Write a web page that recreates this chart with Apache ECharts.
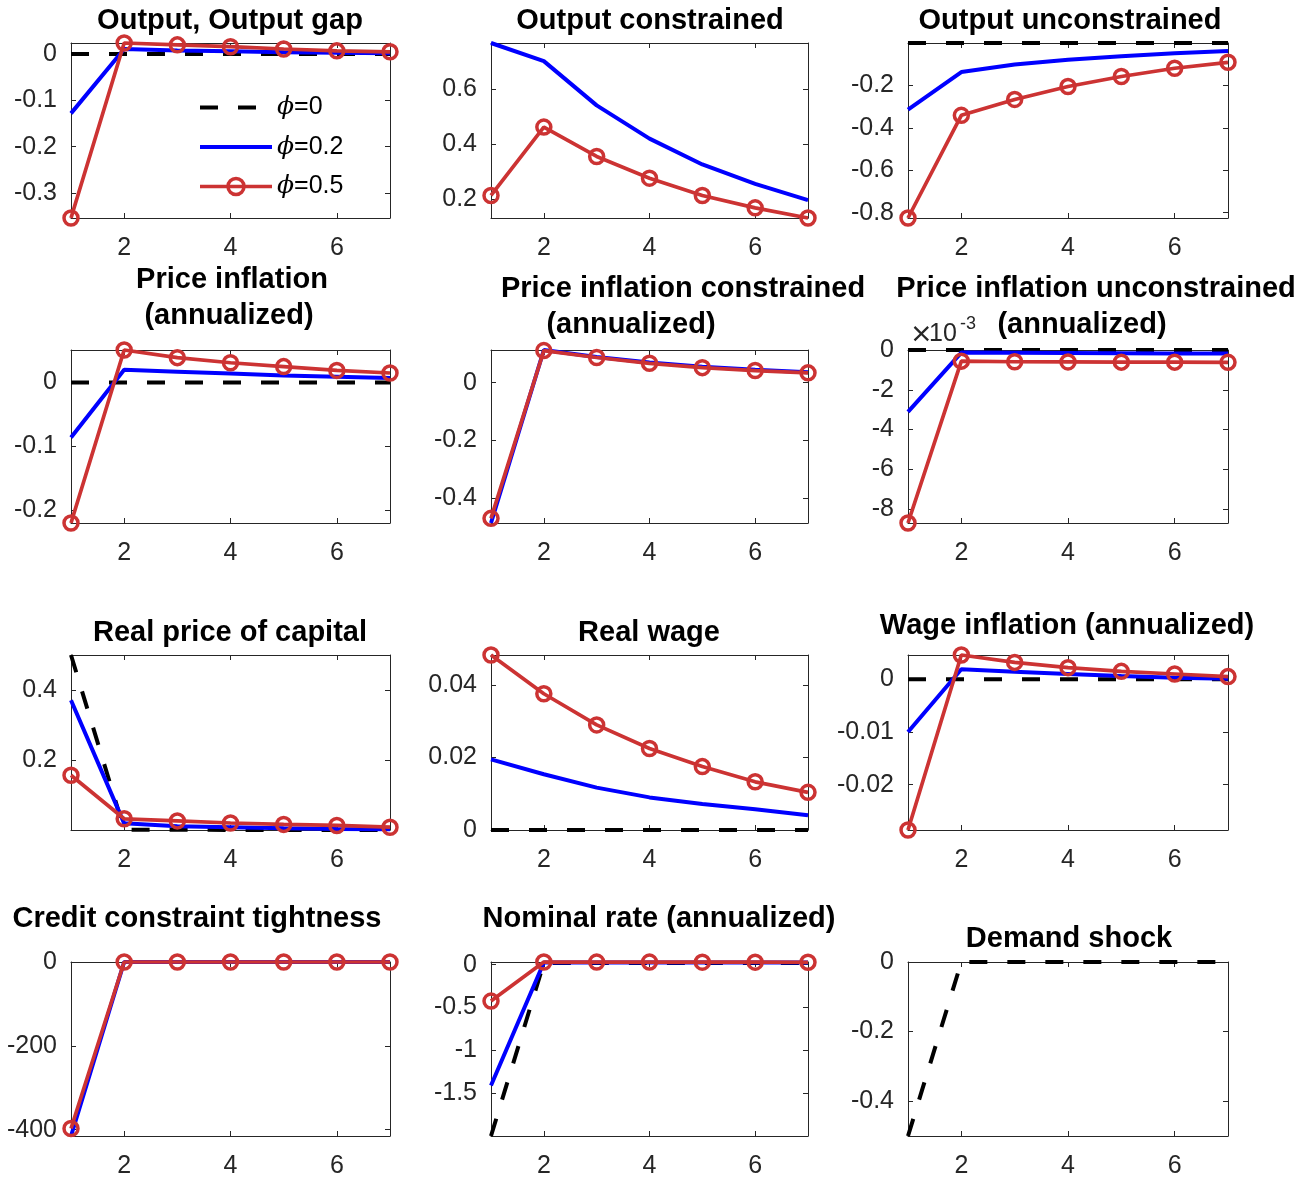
<!DOCTYPE html>
<html>
<head>
<meta charset="utf-8">
<script src="https://cdn.jsdelivr.net/npm/echarts@6/dist/echarts.min.js"></script>
<style>
  html, body { margin: 0; padding: 0; background: #fff; }
  #chart { width: 1314px; height: 1179px; }
</style>
</head>
<body>
<div id="chart"></div>
<script>
// Impulse responses over seven periods for three values of phi
const periods = [1, 2, 3, 4, 5, 6, 7];
const xTicks = [2, 4, 6];
const seriesNames = ['\u03D5=0', '\u03D5=0.2', '\u03D5=0.5'];

// Output, output gap
const outputGapPhi0  = [0, 0, 0, 0, 0, 0, 0];
const outputGapPhi02 = [-0.128, 0.011, 0.008, 0.006, 0.004, 0.003, 0.002];
const outputGapPhi05 = [-0.354, 0.024, 0.020, 0.016, 0.011, 0.007, 0.005];
const outputGapTicks = [-0.3, -0.2, -0.1, 0];

// Output of constrained agents
const outputConPhi02 = [0.768, 0.702, 0.541, 0.420, 0.326, 0.255, 0.196];
const outputConPhi05 = [0.213, 0.462, 0.355, 0.276, 0.213, 0.168, 0.131];
const outputConTicks = [0.2, 0.4, 0.6];

// Output of unconstrained agents
const outputUncPhi0  = [0, 0, 0, 0, 0, 0, 0];
const outputUncPhi02 = [-0.314, -0.137, -0.101, -0.079, -0.062, -0.048, -0.038];
const outputUncPhi05 = [-0.825, -0.341, -0.266, -0.205, -0.158, -0.119, -0.091];
const outputUncTicks = [-0.8, -0.6, -0.4, -0.2];

// Price inflation (annualized)
const inflPhi0  = [0, 0, 0, 0, 0, 0, 0];
const inflPhi02 = [-0.086, 0.020, 0.017, 0.014, 0.011, 0.009, 0.007];
const inflPhi05 = [-0.220, 0.051, 0.039, 0.031, 0.025, 0.019, 0.015];
const inflTicks = [-0.2, -0.1, 0];

// Price inflation of constrained agents (annualized)
const inflConPhi02 = [-0.485, 0.113, 0.089, 0.070, 0.055, 0.045, 0.036];
const inflConPhi05 = [-0.469, 0.111, 0.087, 0.067, 0.052, 0.042, 0.034];
const inflConTicks = [-0.4, -0.2, 0];

// Price inflation of unconstrained agents (annualized)
const inflUncPhi0  = [0, 0, 0, 0, 0, 0, 0];
const inflUncPhi02 = [-0.00311, -0.00013, -0.00014, -0.00015, -0.00016, -0.00017, -0.00017];
const inflUncPhi05 = [-0.00870, -0.00056, -0.00059, -0.00060, -0.00061, -0.00061, -0.00062];
const inflUncTicks = [-0.008, -0.006, -0.004, -0.002, 0];

// Real price of capital
const capPricePhi0  = [0.500, 0.002, 0.002, 0.001, 0.001, 0.001, 0.001];
const capPricePhi02 = [0.371, 0.020, 0.012, 0.009, 0.006, 0.004, 0.003];
const capPricePhi05 = [0.157, 0.033, 0.027, 0.021, 0.017, 0.014, 0.009];
const capPriceTicks = [0.2, 0.4];

// Real wage
const wagePhi0  = [0, 0, 0, 0, 0, 0, 0];
const wagePhi02 = [0.0195, 0.0154, 0.0117, 0.0090, 0.0072, 0.0057, 0.0041];
const wagePhi05 = [0.0483, 0.0376, 0.0290, 0.0225, 0.0175, 0.0133, 0.0104];
const wageTicks = [0, 0.02, 0.04];

// Wage inflation (annualized)
const wageInflPhi0  = [0, 0, 0, 0, 0, 0, 0];
const wageInflPhi02 = [-0.0100, 0.0019, 0.0014, 0.0010, 0.0006, 0.0003, 0.0001];
const wageInflPhi05 = [-0.0286, 0.0046, 0.0032, 0.0022, 0.0015, 0.0010, 0.0005];
const wageInflTicks = [-0.02, -0.01, 0];

// Credit constraint tightness
const creditPhi02 = [-415, 0, 0, 0, 0, 0, 0];
const creditPhi05 = [-397, 0, 0, 0, 0, 0, 0];
const creditTicks = [-400, -200, 0];

// Nominal rate (annualized)
const ratePhi0  = [-2.0, 0.020, 0.020, 0.020, 0.020, 0.020, 0.020];
const ratePhi02 = [-1.41, 0.025, 0.025, 0.025, 0.024, 0.024, 0.024];
const ratePhi05 = [-0.425, 0.031, 0.030, 0.030, 0.029, 0.029, 0.028];
const rateTicks = [-1.5, -1, -0.5, 0];

// Demand shock
const shockPhi0 = [-0.5, 0, 0, 0, 0, 0, 0];
const shockTicks = [-0.4, -0.2, 0];

const FONT = "'Liberation Sans', Arial, Helvetica, sans-serif";
const AXIS_COLOR = '#262626';
const RED = '#cc3333';
const BLUE = '#0000ff';

// Subplot layout: plot-box rectangle [left, top, width, height] and title lines [text, centerX, centerY]
const panels = [
  { rect: [71, 43, 319, 175],  titles: [['Output, Output gap', 230, 21]],
    lines: [outputGapPhi0, outputGapPhi02, outputGapPhi05], ticks: outputGapTicks },
  { rect: [491, 43, 317, 175], titles: [['Output constrained', 650, 21]],
    lines: [null, outputConPhi02, outputConPhi05], ticks: outputConTicks },
  { rect: [908, 43, 320, 175], titles: [['Output unconstrained', 1070, 21]],
    lines: [outputUncPhi0, outputUncPhi02, outputUncPhi05], ticks: outputUncTicks },
  { rect: [71, 350, 319, 173], titles: [['Price inflation', 232, 280], ['(annualized)', 229, 316]],
    lines: [inflPhi0, inflPhi02, inflPhi05], ticks: inflTicks },
  { rect: [491, 350, 317, 173], titles: [['Price inflation constrained', 683, 289], ['(annualized)', 631, 325]],
    lines: [null, inflConPhi02, inflConPhi05], ticks: inflConTicks },
  { rect: [908, 350, 320, 173], titles: [['Price inflation unconstrained', 1096, 289], ['(annualized)', 1082, 325]],
    lines: [inflUncPhi0, inflUncPhi02, inflUncPhi05], ticks: inflUncTicks, scale: 1000 },
  { rect: [71, 655, 319, 175],  titles: [['Real price of capital', 230, 633]],
    lines: [capPricePhi0, capPricePhi02, capPricePhi05], ticks: capPriceTicks },
  { rect: [491, 655, 317, 175], titles: [['Real wage', 649, 633]],
    lines: [wagePhi0, wagePhi02, wagePhi05], ticks: wageTicks },
  { rect: [908, 655, 320, 175], titles: [['Wage inflation (annualized)', 1067, 626]],
    lines: [wageInflPhi0, wageInflPhi02, wageInflPhi05], ticks: wageInflTicks },
  { rect: [71, 962, 319, 175],  titles: [['Credit constraint tightness', 197, 919]],
    lines: [null, creditPhi02, creditPhi05], ticks: creditTicks },
  { rect: [491, 962, 317, 175], titles: [['Nominal rate (annualized)', 659, 919]],
    lines: [ratePhi0, ratePhi02, ratePhi05], ticks: rateTicks },
  { rect: [908, 962, 320, 175], titles: [['Demand shock', 1069, 939]],
    lines: [shockPhi0, null, null], ticks: shockTicks }
];

const lineStyles = [
  { symbol: 'none', lineStyle: { color: '#000', width: 4, type: [18, 20] } },
  { symbol: 'none', lineStyle: { color: BLUE, width: 4 } },
  { symbol: 'circle', symbolSize: 14,
    itemStyle: { color: 'rgba(255,255,255,0)', borderColor: RED, borderWidth: 3.5 },
    lineStyle: { color: RED, width: 3.7 } }
];

const grids = [], xAxes = [], yAxes = [], series = [], graphics = [];

function axisBase(gridIndex, position, showLabel) {
  return {
    gridIndex, position, type: 'value',
    axisLine: { show: true, onZero: false, lineStyle: { color: AXIS_COLOR, width: 1 } },
    axisTick: { show: true, inside: true, length: 5, lineStyle: { color: AXIS_COLOR, width: 1 } },
    axisLabel: { show: showLabel, color: AXIS_COLOR, fontSize: 25, fontFamily: FONT },
    splitLine: { show: false }
  };
}

panels.forEach((p, i) => {
  const [left, top, width, height] = p.rect;
  grids.push({ left, top, width, height });

  // y range is the tight extent of every drawn series
  const vals = p.lines.filter(Boolean).flat();
  const yMin = Math.min(...vals), yMax = Math.max(...vals);

  ['bottom', 'top'].forEach(pos => {
    const ax = axisBase(i, pos, pos === 'bottom');
    ax.min = 1; ax.max = 7;
    ax.axisTick.customValues = xTicks;
    ax.axisLabel.customValues = xTicks;
    ax.axisLabel.margin = 18;
    xAxes.push(ax);
  });
  ['left', 'right'].forEach(pos => {
    const ax = axisBase(i, pos, pos === 'left');
    ax.min = yMin; ax.max = yMax;
    ax.axisTick.customValues = p.ticks;
    ax.axisLabel.customValues = p.ticks;
    ax.axisLabel.margin = 14;
    ax.axisLabel.padding = [3, 0, 0, 0];
    const scale = p.scale || 1;
    ax.axisLabel.formatter = v => String(Math.round(v * scale * 1e6) / 1e6);
    yAxes.push(ax);
  });

  p.lines.forEach((vals, k) => {
    if (!vals) return;
    series.push(Object.assign({
      type: 'line', name: seriesNames[k],
      xAxisIndex: 2 * i, yAxisIndex: 2 * i,
      data: periods.map((t, j) => [t, vals[j]]),
      clip: false, silent: true, animation: false,
      emphasis: { disabled: true }
    }, JSON.parse(JSON.stringify(lineStyles[k]))));
  });

  p.titles.forEach(([text, x, y]) => {
    graphics.push({
      type: 'text', x, y,
      style: { text, fill: '#000', font: "bold 29px " + FONT,
               textAlign: 'center', textVerticalAlign: 'middle', align: 'center', verticalAlign: 'middle' }
    });
  });
});

// Exponent marker of the scaled axis
graphics.push({ type: 'text', x: 910, y: 335,
  style: { text: '\u00D7', fill: AXIS_COLOR, font: "27px 'DejaVu Sans', sans-serif",
           textAlign: 'left', textVerticalAlign: 'middle', align: 'left', verticalAlign: 'middle' } });
graphics.push({ type: 'text', x: 929, y: 334,
  style: { text: '10', fill: AXIS_COLOR, font: "25px " + FONT,
           textAlign: 'left', textVerticalAlign: 'middle', align: 'left', verticalAlign: 'middle' } });
graphics.push({ type: 'text', x: 960, y: 324,
  style: { text: '-3', fill: AXIS_COLOR, font: "18px " + FONT,
           textAlign: 'left', textVerticalAlign: 'middle', align: 'left', verticalAlign: 'middle' } });

const option = {
  backgroundColor: '#fff',
  animation: false,
  grid: grids,
  xAxis: xAxes,
  yAxis: yAxes,
  series,
  graphic: graphics,
  legend: {
    left: 193, top: 90, orient: 'vertical',
    itemWidth: 72, itemHeight: 20, itemGap: 14.5,
    selectedMode: false,
    textStyle: {
      color: '#000', fontSize: 25, fontFamily: FONT,
      rich: {
        p: { fontStyle: 'italic', fontSize: 25, fontFamily: "'DejaVu Serif', serif", color: '#000' },
        t: { fontSize: 25, fontFamily: FONT, color: '#000' }
      }
    },
    formatter: name => '{p|' + name.charAt(0) + '}{t|' + name.slice(1) + '}',
    data: [
      { name: seriesNames[0],
        itemStyle: { color: 'rgba(0,0,0,0)', borderWidth: 0, opacity: 0 },
        lineStyle: { color: '#000', width: 4, type: [18, 20] } },
      { name: seriesNames[1],
        itemStyle: { color: 'rgba(0,0,0,0)', borderWidth: 0, opacity: 0 },
        lineStyle: { color: BLUE, width: 4 } },
      { name: seriesNames[2],
        itemStyle: { color: 'rgba(255,255,255,0)', borderColor: RED, borderWidth: 3.5 },
        lineStyle: { color: RED, width: 3.7 } }
    ]
  }
};

const chart = echarts.init(document.getElementById('chart'), null, { renderer: 'canvas' });
chart.setOption(option);
</script>
</body>
</html>
